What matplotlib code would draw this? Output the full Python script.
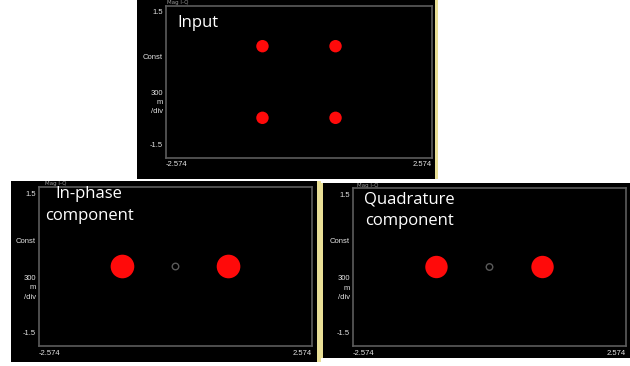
import numpy as np
from matplotlib import pyplot as plt

W, H = 630, 366

# constellation centres (x = I, y = Q) for each panel
in_x = [-0.707, 0.707, -0.707, 0.707]
in_y = [0.707, 0.707, -0.707, -0.707]
iph_x = [-1.0, 1.0]
iph_y = [0.0, 0.0]
quad_x = [-1.0, 1.0]
quad_y = [0.0, 0.0]

titles = ["Input", "In-phase\ncomponent", "Quadrature\ncomponent"]
xlim = (-2.574, 2.574)
ylim = (-1.5, 1.5)
x_labels = ["-2.574", "2.574"]
y_labels = ["1.5", "Const", "300", "m", "/div", "-1.5"]
y_label_pos = [0.955, 0.66, 0.425, 0.365, 0.305, 0.08]

# pixel boxes (x0, y0, x1, y1), top-left origin
panels = [
    dict(bg=(137, 0, 435, 179), inner=(166, 6, 432, 158), yl=(435, 438),
         title=(177, 23, 'left'), x=in_x, y=in_y, s=80, ring=False),
    dict(bg=(11, 181, 317, 362), inner=(39, 187, 312, 346), yl=(317, 321),
         title=(89, 205, 'center'), x=iph_x, y=iph_y, s=290, ring=True),
    dict(bg=(323, 183, 630, 358), inner=(353, 188, 626, 346), yl=(320, 323),
         title=(409, 210, 'center'), x=quad_x, y=quad_y, s=260, ring=True),
]


def rect(b):
    x0, y0, x1, y1 = b
    return [x0 / W, 1 - y1 / H, (x1 - x0) / W, (y1 - y0) / H]


fig = plt.figure(figsize=(6.3, 3.66), dpi=100, facecolor='white')

for i, p in enumerate(panels):
    bg = fig.add_axes(rect(p['bg']))
    bg.set_facecolor('black')
    bg.set_xticks([])
    bg.set_yticks([])
    for sp in bg.spines.values():
        sp.set_visible(False)
    # small header text at the top edge of each screen
    bg.text(0.1 if i == 0 else 0.11, 0.998, "Mag I-Q", color='#9a9a9a', fontsize=4,
            ha='left', va='top', transform=bg.transAxes)

    # yellow edge line
    ya = fig.add_axes(rect((p['yl'][0], p['bg'][1], p['yl'][1], p['bg'][3])))
    ya.set_facecolor('#e9df96')
    ya.set_xticks([])
    ya.set_yticks([])
    for sp in ya.spines.values():
        sp.set_visible(False)

    ax = fig.add_axes(rect(p['inner']))
    ax.set_facecolor('black')
    ax.set_xlim(xlim)
    ax.set_ylim(ylim)
    ax.set_xticks([])
    ax.set_yticks([])
    for sp in ax.spines.values():
        sp.set_color('#5c5c5c')
        sp.set_linewidth(1.2)

    ax.scatter(p['x'], p['y'], s=p['s'], color='#ff0a0a', edgecolors='none')
    if p['ring']:
        ax.scatter([0], [0], s=22, facecolors='none', edgecolors='#5a5a5a', linewidths=1)

    for lab, yy in zip(y_labels, y_label_pos):
        ax.text(-0.012, yy, lab, color='#e4e4e4', fontsize=5.5, family='Liberation Sans',
                ha='right', va='center', transform=ax.transAxes)
    ax.text(0.0, -0.045, x_labels[0], color='#e4e4e4', fontsize=5.5, family='Liberation Sans',
            ha='left', va='center', transform=ax.transAxes)
    ax.text(1.0, -0.045, x_labels[1], color='#e4e4e4', fontsize=5.5, family='Liberation Sans',
            ha='right', va='center', transform=ax.transAxes)

    tx, ty, ha = p['title']
    fig.text(tx / W, 1 - ty / H, titles[i], color='white', fontsize=12, family='Open Sans',
             ha=ha, va='center', multialignment='center', linespacing=1.5)

fig.savefig('out.png', dpi=100, facecolor='white')
